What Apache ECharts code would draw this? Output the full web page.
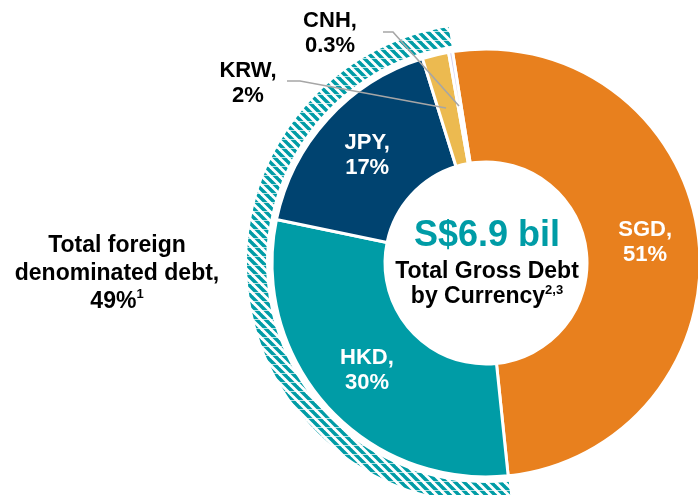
<!DOCTYPE html>
<html>
<head>
<meta charset="utf-8">
<script src="https://cdn.jsdelivr.net/npm/echarts@6/dist/echarts.min.js"></script>
<style>
  html, body { margin: 0; padding: 0; background: #fff; }
  #chart { width: 698px; height: 495px; }
</style>
</head>
<body>
<div id="chart"></div>
<script>
const currencies = ["SGD", "HKD", "JPY", "KRW", "CNH"];
const shares = [51, 30, 17, 2, 0.3];
const sliceColors = ["#E8801E", "#009CA6", "#004370", "#ECBA50", "#D3CCEA"];
const foreignLabel = "Total foreign\ndenominated debt,\n49%";
const totalLabel = "S$6.9 bil";

const FONT = "'Liberation Sans', Arial, sans-serif";
const TEAL = "#009CA6";

// outside labels for the two small slices: label centre + leader line
const outsideLabels = {
  3: { x: 248, y: 83, line: [[287, 81], [300, 81], [446, 108]] },
  4: { x: 330, y: 33, line: [[383, 32], [393, 32], [459, 106]] },
};

function makeHatch() {
  const s = 9;
  const c = document.createElement("canvas");
  c.width = s;
  c.height = s;
  const ctx = c.getContext("2d");
  ctx.fillStyle = "#fff";
  ctx.fillRect(0, 0, s, s);
  ctx.strokeStyle = TEAL;
  ctx.lineWidth = 3.5;
  [-s, 0, s].forEach((dx) => {
    ctx.beginPath();
    ctx.moveTo(dx - 1, -1);
    ctx.lineTo(dx + s + 1, s + 1);
    ctx.stroke();
  });
  ctx.fillStyle = "rgba(255,255,255,0.7)";
  ctx.fillRect(0, Math.floor(s / 2), s, 1);
  return c;
}

const foreignTotal = shares.slice(1).reduce((a, b) => a + b, 0);

const leaderLines = Object.values(outsideLabels).map((o) => ({
  type: "polyline",
  z: 100,
  silent: true,
  shape: { points: o.line },
  style: { stroke: "#A6A6A6", lineWidth: 1.6, fill: null },
}));

const chart = echarts.init(document.getElementById("chart"), null, { renderer: "canvas" });
chart.setOption({
  backgroundColor: "#fff",
  animation: false,
  series: [
    {
      type: "pie",
      silent: true,
      center: [486, 263],
      radius: [220, 239],
      startAngle: 99,
      label: { show: false },
      labelLine: { show: false },
      data: [
        { value: shares[0], itemStyle: { color: "rgba(0,0,0,0)" } },
        { value: foreignTotal, itemStyle: { color: { image: makeHatch(), repeat: "repeat" } } },
      ],
    },
    {
      type: "pie",
      silent: true,
      center: [486, 263],
      radius: [101, 214],
      startAngle: 99,
      avoidLabelOverlap: false,
      itemStyle: { borderColor: "#fff", borderWidth: 3 },
      label: {
        show: true,
        position: "inside",
        color: "#fff",
        fontFamily: FONT,
        fontWeight: "bold",
        fontSize: 22,
        lineHeight: 25,
        align: "center",
        formatter: (p) => `${p.name},\n${p.value}%`,
      },
      labelLine: { show: false },
      labelLayout: (params) => {
        const pos = outsideLabels[params.dataIndex];
        if (!pos) return {};
        return { x: pos.x, y: pos.y, align: "center", verticalAlign: "middle" };
      },
      data: currencies.map((name, i) => {
        const item = { name, value: shares[i], itemStyle: { color: sliceColors[i] } };
        if (outsideLabels[i]) {
          item.label = { position: "outside", color: "#000" };
          item.labelLine = { show: false };
        }
        return item;
      }),
    },
  ],
  graphic: leaderLines.concat([
    {
      type: "text",
      x: 487,
      y: 236,
      style: {
        text: totalLabel,
        fill: TEAL,
        font: `bold 36px ${FONT}`,
        align: "center",
        verticalAlign: "middle",
      },
    },
    {
      type: "text",
      x: 487,
      y: 284,
      style: {
        text: "{m|Total Gross Debt}\n{m|by Currency}{s|2,3}",
        align: "center",
        verticalAlign: "middle",
        rich: {
          m: { fontFamily: FONT, fontWeight: "bold", fontSize: 23, lineHeight: 25, fill: "#000" },
          s: { fontFamily: FONT, fontWeight: "bold", fontSize: 13, lineHeight: 25, verticalAlign: "top", fill: "#000" },
        },
      },
    },
    {
      type: "text",
      x: 117,
      y: 274,
      style: {
        text: foreignLabel.split("\n").map((l, i, a) => `{m|${l}}` + (i === a.length - 1 ? "{s|1}" : "")).join("\n"),
        align: "center",
        verticalAlign: "middle",
        rich: {
          m: { fontFamily: FONT, fontWeight: "bold", fontSize: 23, lineHeight: 28, fill: "#000" },
          s: { fontFamily: FONT, fontWeight: "bold", fontSize: 13, lineHeight: 28, verticalAlign: "top", fill: "#000" },
        },
      },
    },
  ]),
});
</script>
</body>
</html>
